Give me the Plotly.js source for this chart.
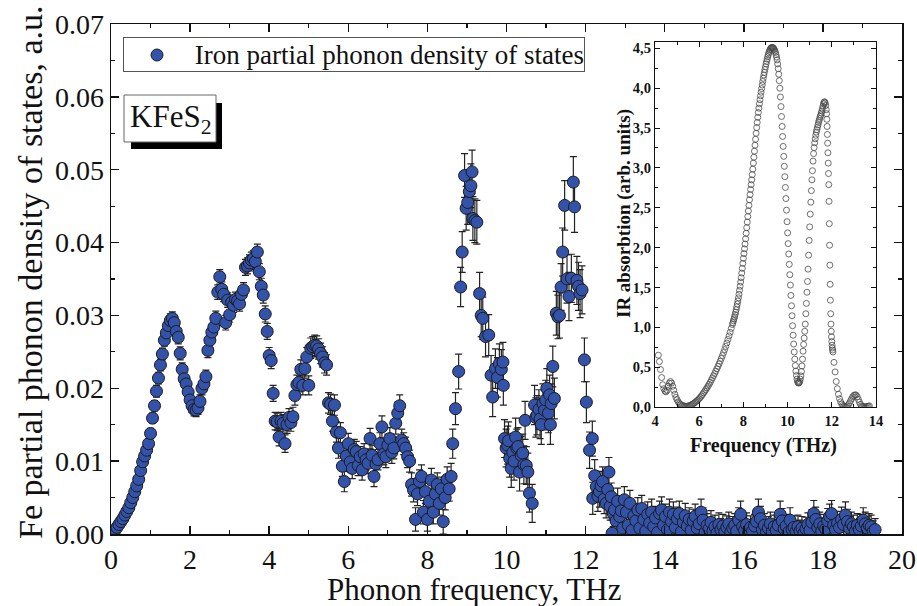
<!DOCTYPE html>
<html>
<head>
<meta charset="utf-8">
<script src="https://cdn.plot.ly/plotly-3.0.1.min.js"></script>
<style>
  html, body { margin: 0; padding: 0; background: #fff; }
  #chart { width: 917px; height: 606px; }
</style>
</head>
<body>
<div id="chart"></div>
<script>
// Fe partial phonon density of states of KFeS2 (frequency in THz, DOS in a.u., error bars)
const phononFreq = [
  0.05,0.10,0.15,0.20,0.25,0.30,0.35,0.40,0.45,0.50,
  0.55,0.60,0.65,0.70,0.75,0.80,0.85,0.90,0.95,1.00,
  1.05,1.10,1.15,1.20,1.25,1.30,1.35,1.40,1.45,1.50,
  1.55,1.60,1.65,1.70,1.75,1.80,1.85,1.90,1.95,2.00,
  2.05,2.10,2.15,2.20,2.25,2.30,2.35,2.40,2.45,2.50,
  2.55,2.60,2.65,2.70,2.75,2.80,2.85,2.90,2.95,3.00,
  3.05,3.10,3.15,3.20,3.25,3.30,3.35,3.40,3.45,3.50,
  3.55,3.60,3.65,3.70,3.75,3.80,3.85,3.90,3.95,4.00,
  4.05,4.10,4.15,4.20,4.25,4.30,4.35,4.40,4.45,4.50,
  4.55,4.60,4.65,4.70,4.75,4.80,4.85,4.90,4.95,5.00,
  5.05,5.10,5.15,5.20,5.25,5.30,5.35,5.40,5.45,5.50,
  5.55,5.60,5.65,5.70,5.75,5.80,5.85,5.90,5.95,6.00,
  6.05,6.10,6.15,6.20,6.25,6.30,6.35,6.40,6.45,6.50,
  6.55,6.60,6.65,6.70,6.75,6.80,6.85,6.90,6.95,7.00,
  7.05,7.10,7.15,7.20,7.25,7.30,7.35,7.40,7.45,7.50,
  7.55,7.60,7.65,7.70,7.75,7.80,7.85,7.90,7.95,8.00,
  8.05,8.10,8.15,8.20,8.25,8.30,8.35,8.40,8.45,8.50,
  8.55,8.60,8.64,8.71,8.79,8.84,8.88,8.94,8.98,9.02,
  9.06,9.10,9.13,9.15,9.20,9.25,9.32,9.36,9.40,9.47,
  9.55,9.61,9.65,9.72,9.77,9.82,9.87,9.91,9.92,9.95,
  9.99,10.03,10.05,10.08,10.12,10.16,10.19,10.23,10.26,10.29,
  10.33,10.37,10.41,10.44,10.47,10.50,10.54,10.58,10.65,10.71,
  10.74,10.77,10.82,10.85,10.88,10.92,10.96,10.99,11.02,11.06,
  11.09,11.11,11.13,11.17,11.21,11.26,11.30,11.34,11.38,11.42,
  11.47,11.53,11.58,11.64,11.69,11.72,11.78,11.82,11.86,11.91,
  11.97,12.02,12.10,12.17,12.18,12.23,12.27,12.31,12.35,12.39,
  12.43,12.47,12.52,12.56,12.59,12.62,12.65,12.67,12.70,12.73,
  12.77,12.81,12.86,12.90,12.94,12.98,
  13.03,13.08,13.12,13.17,13.22,13.27,13.32,13.37,13.42,13.47,
  13.52,13.57,13.62,13.67,13.72,13.77,13.82,13.87,13.92,13.97,
  14.02,14.07,14.12,14.17,14.22,14.27,14.32,14.37,14.42,14.47,
  14.52,14.57,14.62,14.67,14.72,14.77,14.82,14.87,14.92,14.97,
  15.02,15.07,15.12,15.17,15.22,15.27,15.32,15.37,15.42,15.47,
  15.52,15.57,15.62,15.67,15.72,15.77,15.82,15.87,15.92,15.97,
  16.02,16.07,16.12,16.17,16.22,16.27,16.32,16.37,16.42,16.47,
  16.52,16.57,16.62,16.67,16.72,16.77,16.82,16.87,16.92,16.97,
  17.02,17.07,17.12,17.17,17.22,17.27,17.32,17.37,17.42,17.47,
  17.52,17.57,17.62,17.67,17.72,17.77,17.82,17.87,17.92,17.97,
  18.02,18.07,18.12,18.17,18.22,18.27,18.32,18.37,18.42,18.47,
  18.52,18.57,18.62,18.67,18.72,18.77,18.82,18.87,18.92,18.97,
  19.02,19.07,19.12,19.17,19.22,19.27,19.32
];
const phononDos = [
  0.0002,0.0005,0.0009,0.0013,0.0017,0.0021,0.0026,0.0031,0.0036,0.0043,
  0.0050,0.0058,0.0066,0.0075,0.0087,0.0099,0.0107,0.0115,0.0124,0.0138,
  0.0159,0.0176,0.0196,0.0214,0.0232,0.0247,0.0266,0.0276,0.0286,0.0293,
  0.0296,0.0290,0.0278,0.0270,0.0248,0.0226,0.0213,0.0206,0.0195,0.0184,
  0.0176,0.0171,0.0170,0.0173,0.0182,0.0200,0.0206,0.0216,0.0252,0.0266,
  0.0277,0.0284,0.0296,0.0332,0.0353,0.0336,0.0329,0.0290,0.0321,0.0301,
  0.0318,0.0314,0.0322,0.0320,0.0316,0.0329,0.0335,0.0366,0.0368,0.0372,
  0.0376,0.0378,0.0374,0.0387,0.0360,0.0340,0.0328,0.0302,0.0278,0.0245,
  0.0238,0.0193,0.0155,0.0154,0.0133,0.0155,0.0152,0.0124,0.0150,0.0160,
  0.0153,0.0161,0.0190,0.0205,0.0208,0.0226,0.0204,0.0227,0.0243,0.0204,
  0.0255,0.0257,0.0259,0.0258,0.0254,0.0248,0.0243,0.0235,0.0232,0.0180,
  0.0178,0.0155,0.0177,0.0140,0.0118,0.0139,0.0093,0.0072,0.0107,0.0124,
  0.0099,0.0090,0.0116,0.0113,0.0094,0.0106,0.0088,0.0110,0.0102,0.0097,
  0.0131,0.0108,0.0079,0.0096,0.0102,0.0124,0.0147,0.0110,0.0106,0.0122,
  0.0131,0.0112,0.0118,0.0152,0.0166,0.0176,0.0129,0.0124,0.0118,0.0106,
  0.0100,0.0068,0.0060,0.0020,0.0055,0.0072,0.0079,0.0030,0.0058,0.0020,
  0.0045,0.0074,0.0030,0.0055,0.0068,0.0042,0.0062,0.0017,0.0050,0.0075,
  0.0062,0.0079,0.0124,0.0172,0.0223,0.0339,0.0387,0.0492,0.0447,0.0455,
  0.0470,0.0478,0.0497,0.0433,0.0430,0.0428,0.0330,0.0300,0.0296,0.0271,
  0.0273,0.0218,0.0188,0.0227,0.0215,0.0234,0.0226,0.0236,0.0204,0.0131,
  0.0118,0.0122,0.0128,0.0104,0.0090,0.0112,0.0100,0.0133,0.0118,0.0120,
  0.0085,0.0108,0.0111,0.0095,0.0156,0.0094,0.0085,0.0056,0.0042,0.0177,
  0.0160,0.0163,0.0171,0.0158,0.0150,0.0179,0.0170,0.0184,0.0200,0.0166,
  0.0191,0.0150,0.0179,0.0230,0.0186,0.0303,0.0298,0.0300,0.0339,0.0387,
  0.0451,0.0350,0.0326,0.0351,0.0483,0.0449,0.0348,0.0340,0.0330,0.0335,
  0.0239,0.0181,0.0115,0.0131,0.0049,0.0080,0.0065,0.0052,0.0058,0.0066,
  0.0072,0.0048,0.0042,0.0061,0.0085,0.0038,0.0051,0.0001,0.0028,0.0033,
  0.0018,0.0045,0.0024,0.0032,0.0008,0.0047,
  0.0030,0.0012,0.0042,0.0005,0.0025,0.0018,0.0033,0.0008,0.0035,0.0020,
  0.0004,0.0027,0.0015,0.0030,0.0010,0.0022,0.0002,0.0028,0.0033,0.0012,
  0.0024,0.0006,0.0030,0.0017,0.0027,0.0009,0.0021,0.0028,0.0003,0.0016,
  0.0025,0.0011,0.0020,0.0005,0.0018,0.0024,0.0008,0.0014,0.0030,0.0019,
  0.0002,0.0012,0.0007,0.0016,0.0004,0.0010,0.0001,0.0013,0.0006,0.0011,
  0.0003,0.0009,0.0014,0.0002,0.0008,0.0012,0.0004,0.0019,0.0027,0.0010,
  0.0005,0.0013,0.0002,0.0009,0.0004,0.0011,0.0017,0.0030,0.0021,0.0006,
  0.0012,0.0002,0.0008,0.0014,0.0003,0.0010,0.0005,0.0012,0.0027,0.0018,
  0.0007,0.0011,0.0002,0.0019,0.0006,0.0009,0.0003,0.0010,0.0004,0.0008,
  0.0001,0.0007,0.0013,0.0005,0.0016,0.0028,0.0020,0.0009,0.0014,0.0004,
  0.0011,0.0007,0.0018,0.0024,0.0028,0.0012,0.0006,0.0015,0.0009,0.0020,
  0.0013,0.0026,0.0017,0.0008,0.0014,0.0010,0.0004,0.0012,0.0006,0.0011,
  0.0019,0.0014,0.0008,0.0012,0.0010,0.0003,0.0006
];
const phononErr = [
  0.0003,0.0003,0.0003,0.0004,0.0004,0.0004,0.0004,0.0005,0.0005,0.0005,
  0.0005,0.0005,0.0006,0.0006,0.0006,0.0006,0.0006,0.0007,0.0007,0.0007,
  0.0007,0.0007,0.0008,0.0008,0.0008,0.0008,0.0008,0.0009,0.0009,0.0009,
  0.0009,0.0009,0.0009,0.0009,0.0009,0.0009,0.0009,0.0009,0.0009,0.0009,
  0.0009,0.0009,0.0009,0.0009,0.0009,0.0009,0.0009,0.0009,0.0010,0.0010,
  0.0010,0.0010,0.0010,0.0010,0.0010,0.0010,0.0010,0.0010,0.0010,0.0010,
  0.0010,0.0010,0.0010,0.0010,0.0010,0.0010,0.0010,0.0011,0.0011,0.0011,
  0.0011,0.0011,0.0011,0.0011,0.0011,0.0011,0.0011,0.0011,0.0011,0.0011,
  0.0011,0.0011,0.0012,0.0012,0.0012,0.0012,0.0012,0.0012,0.0012,0.0012,
  0.0012,0.0013,0.0013,0.0013,0.0013,0.0013,0.0013,0.0013,0.0013,0.0013,
  0.0014,0.0014,0.0014,0.0014,0.0014,0.0014,0.0014,0.0014,0.0014,0.0014,
  0.0014,0.0014,0.0014,0.0014,0.0014,0.0014,0.0014,0.0014,0.0014,0.0014,
  0.0014,0.0014,0.0014,0.0014,0.0014,0.0014,0.0014,0.0014,0.0014,0.0014,
  0.0014,0.0014,0.0014,0.0014,0.0014,0.0015,0.0015,0.0015,0.0015,0.0015,
  0.0015,0.0015,0.0015,0.0015,0.0015,0.0015,0.0015,0.0015,0.0015,0.0015,
  0.0015,0.0016,0.0016,0.0016,0.0016,0.0016,0.0016,0.0016,0.0016,0.0016,
  0.0016,0.0016,0.0016,0.0016,0.0016,0.0016,0.0016,0.0017,0.0017,0.0017,
  0.0017,0.0018,0.0020,0.0022,0.0024,0.0027,0.0028,0.0030,0.0030,0.0030,
  0.0030,0.0030,0.0030,0.0030,0.0030,0.0030,0.0029,0.0029,0.0029,0.0028,
  0.0028,0.0027,0.0027,0.0027,0.0027,0.0027,0.0027,0.0027,0.0027,0.0026,
  0.0026,0.0026,0.0026,0.0026,0.0026,0.0026,0.0026,0.0026,0.0026,0.0026,
  0.0026,0.0026,0.0026,0.0026,0.0026,0.0026,0.0026,0.0026,0.0026,0.0027,
  0.0027,0.0027,0.0027,0.0027,0.0027,0.0027,0.0027,0.0027,0.0027,0.0027,
  0.0027,0.0027,0.0027,0.0028,0.0028,0.0030,0.0030,0.0031,0.0032,0.0033,
  0.0034,0.0033,0.0033,0.0033,0.0035,0.0035,0.0033,0.0033,0.0033,0.0033,
  0.0030,0.0028,0.0025,0.0024,0.0022,0.0022,0.0021,0.0021,0.0021,0.0020,
  0.0020,0.0020,0.0020,0.0020,0.0020,0.0019,0.0019,0.0018,0.0018,0.0018,
  0.0018,0.0018,0.0018,0.0018,0.0018,0.0018,
  0.0017,0.0016,0.0018,0.0015,0.0017,0.0016,0.0017,0.0015,0.0018,0.0016,
  0.0015,0.0017,0.0016,0.0018,0.0015,0.0016,0.0015,0.0017,0.0018,0.0016,
  0.0017,0.0015,0.0018,0.0016,0.0017,0.0015,0.0016,0.0017,0.0015,0.0016,
  0.0017,0.0015,0.0016,0.0015,0.0016,0.0017,0.0015,0.0016,0.0018,0.0017,
  0.0015,0.0016,0.0015,0.0016,0.0015,0.0016,0.0015,0.0016,0.0015,0.0016,
  0.0015,0.0016,0.0016,0.0015,0.0016,0.0016,0.0015,0.0017,0.0018,0.0016,
  0.0015,0.0016,0.0015,0.0016,0.0015,0.0016,0.0017,0.0018,0.0017,0.0015,
  0.0016,0.0015,0.0016,0.0016,0.0015,0.0016,0.0015,0.0016,0.0018,0.0017,
  0.0015,0.0016,0.0015,0.0017,0.0015,0.0016,0.0015,0.0016,0.0015,0.0016,
  0.0015,0.0016,0.0016,0.0015,0.0017,0.0018,0.0017,0.0016,0.0016,0.0015,
  0.0016,0.0015,0.0017,0.0017,0.0018,0.0016,0.0015,0.0016,0.0016,0.0017,
  0.0016,0.0018,0.0017,0.0016,0.0016,0.0016,0.0015,0.0016,0.0015,0.0016,
  0.0017,0.0016,0.0016,0.0016,0.0016,0.0015,0.0015
];

// IR absorption spectrum (inset): frequency in THz, absorption in arb. units
const irFreq = [
  4.15,4.20,4.25,4.30,4.35,4.40,4.45,4.50,4.55,4.60,
  4.65,4.70,4.75,4.80,4.85,4.90,4.95,5.00,5.05,5.10,
  5.15,5.20,5.25,5.30,5.35,5.40,5.45,5.50,5.55,5.60,
  5.65,5.70,5.75,5.80,5.85,5.90,5.95,6.00,6.05,6.10,
  6.15,6.20,6.25,6.30,6.35,6.40,6.45,6.50,6.55,6.60,
  6.65,6.70,6.75,6.80,6.85,6.90,6.95,7.00,7.05,7.10,
  7.15,7.20,7.25,7.30,7.35,7.40,7.45,
  7.500,7.525,7.550,7.575,7.600,7.625,7.650,7.675,7.700,7.725,
  7.750,7.775,7.800,7.825,7.850,7.875,7.900,7.925,7.950,7.975,
  8.000,8.025,8.050,8.075,8.100,8.125,8.150,8.175,8.200,8.225,
  8.250,8.275,8.300,8.325,8.350,8.375,8.400,8.425,8.450,8.475,
  8.500,8.525,8.550,8.575,8.600,8.625,8.650,8.675,8.700,8.725,
  8.750,8.775,8.800,8.825,8.850,8.875,8.900,8.925,8.950,8.975,
  9.000,9.025,9.050,9.075,9.100,9.125,9.150,9.175,9.200,9.225,
  9.250,9.275,9.300,9.325,9.350,9.375,9.400,9.425,9.450,9.475,
  9.500,9.525,9.550,9.575,9.600,9.625,9.650,9.675,9.700,9.725,
  9.750,9.775,9.800,9.825,9.850,9.875,9.900,9.925,9.950,9.975,
  10.000,10.025,10.050,10.075,10.100,10.125,10.150,10.175,10.200,10.225,
  10.250,10.275,10.300,10.325,10.350,10.375,10.400,10.425,10.450,10.475,
  10.500,10.525,10.550,10.575,10.600,10.625,10.650,10.675,10.700,10.725,
  10.750,10.775,10.800,10.825,10.850,10.875,10.900,10.925,10.950,10.975,
  11.000,11.025,11.050,11.075,11.100,11.125,11.150,11.175,11.200,11.225,
  11.250,11.275,11.300,11.325,11.350,11.375,11.400,11.425,11.450,11.475,
  11.500,11.525,11.550,11.575,11.600,11.625,11.650,11.675,11.700,11.725,
  11.7500,11.7625,11.7750,11.7875,11.8000,11.8125,11.8250,11.8375,
  11.8500,11.8625,11.8750,11.8875,11.9000,11.9125,11.9250,11.9375,
  11.9500,11.9625,11.9750,11.9875,12.0000,12.0125,12.0250,12.0375,
  12.05,12.10,12.15,12.20,12.25,12.30,12.35,12.40,12.45,12.50,
  12.55,12.60,12.65,12.70,12.75,12.80,12.85,12.90,12.95,13.00,
  13.05,13.10,13.15,13.20,13.25,13.30,13.35,13.40,13.45,13.50,
  13.55,13.60,13.65,13.70
];
const irAbs = [
  0.650,0.570,0.470,0.370,0.280,0.230,0.200,0.190,0.210,0.260,
  0.300,0.320,0.300,0.260,0.210,0.160,0.120,0.090,0.065,0.045,
  0.033,0.024,0.017,0.012,0.010,0.009,0.010,0.012,0.016,0.021,
  0.028,0.036,0.045,0.055,0.066,0.078,0.090,0.104,0.120,0.138,
  0.157,0.177,0.197,0.218,0.240,0.262,0.285,0.310,0.338,0.366,
  0.393,0.420,0.450,0.480,0.510,0.542,0.575,0.610,0.645,0.682,
  0.720,0.760,0.803,0.847,0.892,0.938,0.986,
  1.035,1.058,1.082,1.107,1.133,1.160,1.190,1.222,1.256,1.292,
  1.330,1.370,1.415,1.465,1.515,1.568,1.622,1.680,1.740,1.802,
  1.865,1.925,1.985,2.045,2.110,2.180,2.250,2.320,2.390,2.460,
  2.530,2.600,2.665,2.730,2.790,2.850,2.915,2.985,3.060,3.135,
  3.210,3.285,3.360,3.435,3.505,3.570,3.635,3.695,3.750,3.805,
  3.855,3.905,3.950,3.995,4.040,4.085,4.125,4.165,4.200,4.235,
  4.270,4.305,4.335,4.365,4.395,4.420,4.445,4.465,4.482,4.495,
  4.505,4.510,4.512,4.510,4.505,4.497,4.485,4.468,4.448,4.422,
  4.392,4.355,4.305,4.245,4.175,4.095,4.000,3.890,3.770,3.645,
  3.520,3.395,3.270,3.145,3.020,2.890,2.755,2.615,2.470,2.325,
  2.185,2.050,1.920,1.790,1.660,1.530,1.400,1.270,1.145,1.020,
  0.900,0.790,0.690,0.600,0.520,0.450,0.395,0.350,0.320,0.305,
  0.300,0.305,0.320,0.350,0.390,0.445,0.515,0.600,0.700,0.785,
  0.865,0.950,1.040,1.170,1.300,1.440,1.575,1.730,1.905,2.090,
  2.260,2.420,2.570,2.715,2.850,2.965,3.085,3.180,3.255,3.315,
  3.365,3.410,3.450,3.480,3.510,3.540,3.570,3.595,3.620,3.645,
  3.665,3.690,3.715,3.745,3.775,3.805,3.825,3.830,3.815,3.785,
  3.730,3.680,3.610,3.520,3.420,3.310,3.190,3.060,
  2.930,2.790,2.580,2.300,2.030,1.780,1.540,1.340,
  1.170,1.040,0.950,0.880,0.820,0.775,0.740,0.715,
  0.690,0.560,0.440,0.320,0.230,0.160,0.105,0.065,0.038,0.020,
  0.008,0.002,0.002,0.012,0.030,0.052,0.078,0.105,0.128,0.145,
  0.153,0.150,0.128,0.095,0.060,0.032,0.015,0.006,0.002,0.001,
  0.002,0.006,0.010,0.014
];

// Inset y-axis ticks use a decimal comma
const irTickVals = [0, 0.5, 1, 1.5, 2, 2.5, 3, 3.5, 4, 4.5];
const irTickText = ['0,0', '0,5', '1,0', '1,5', '2,0', '2,5', '3,0', '3,5', '4,0', '4,5'];

const seriesName = 'Iron partial phonon density of states';
const dosColor = '#3353aa';

const serif = "'Liberation Serif', 'Times New Roman', serif";
const ink = '#111111';

// plot-area geometry helpers (pixel -> paper fraction)
const M = { l: 111, r: 15, t: 24, b: 72 };
const W = 917, H = 606;
const PW = W - M.l - M.r, PH = H - M.t - M.b;
const px = x => (x - M.l) / PW;
const py = y => (H - M.b - y) / PH;

const traces = [
  {
    type: 'scatter',
    mode: 'markers',
    x: phononFreq,
    y: phononDos,
    name: seriesName,
    marker: { size: 12, color: dosColor, line: { color: '#1c1c1c', width: 1 } },
    error_y: { type: 'data', array: phononErr, visible: true, color: '#222', thickness: 1.2, width: 3.5 },
    xaxis: 'x', yaxis: 'y'
  },
  {
    type: 'scatter',
    mode: 'markers',
    x: irFreq,
    y: irAbs,
    marker: { symbol: 'circle-open', size: 6, color: '#4a4a4a', line: { width: 0.8 } },
    xaxis: 'x2', yaxis: 'y2'
  }
];

const mainAxis = {
  showline: true, linecolor: ink, linewidth: 1.5, mirror: 'allticks',
  ticks: 'inside', ticklen: 8, tickwidth: 1.5, tickcolor: ink,
  showgrid: false, zeroline: false,
  tickfont: { family: serif, size: 28, color: ink }
};

const insetAxis = {
  showline: true, linecolor: ink, linewidth: 1.2, mirror: 'allticks',
  ticks: 'inside', ticklen: 5, tickwidth: 1, tickcolor: ink,
  showgrid: false, zeroline: false,
  tickfont: { family: serif, size: 14.5, color: ink, weight: 'bold' }
};

const layout = {
  width: W, height: H,
  margin: M,
  paper_bgcolor: '#ffffff',
  plot_bgcolor: '#ffffff',
  showlegend: false,
  xaxis: Object.assign({}, mainAxis, {
    range: [0, 20], dtick: 2, tick0: 0, ticklabelstandoff: 0,
    minor: { dtick: 1, ticks: 'inside', ticklen: 4, tickwidth: 1.2, tickcolor: ink, showgrid: false }
  }),
  yaxis: Object.assign({}, mainAxis, {
    range: [0, 0.07], dtick: 0.01, tick0: 0, tickformat: '.2f',
    minor: { dtick: 0.005, ticks: 'inside', ticklen: 4, tickwidth: 1.2, tickcolor: ink, showgrid: false }
  }),
  xaxis2: Object.assign({}, insetAxis, {
    domain: [px(655), px(876)], anchor: 'y2',
    range: [4, 14], dtick: 2, tick0: 4,
    minor: { dtick: 1, ticks: 'inside', ticklen: 3, tickcolor: ink, showgrid: false }
  }),
  yaxis2: Object.assign({}, insetAxis, {
    domain: [py(407), py(42)], anchor: 'x2',
    range: [0, 4.58],
    tickmode: 'array', tickvals: irTickVals, ticktext: irTickText,
    minor: { dtick: 0.25, ticks: 'inside', ticklen: 3, tickcolor: ink, showgrid: false }
  }),
  shapes: [
    // legend key symbol
    { type: 'circle', xref: 'paper', yref: 'paper', layer: 'above',
      x0: px(151), x1: px(163), y0: py(61), y1: py(49),
      fillcolor: dosColor, line: { color: '#1c1c1c', width: 1 } },
    // drop shadow and frame of the compound label
    { type: 'rect', xref: 'paper', yref: 'paper', layer: 'above',
      x0: px(131), x1: px(222), y0: py(149), y1: py(103),
      fillcolor: '#000', line: { width: 0 } },
    { type: 'rect', xref: 'paper', yref: 'paper', layer: 'above',
      x0: px(124), x1: px(216), y0: py(142), y1: py(95),
      fillcolor: '#fff', line: { color: '#666', width: 1 } }
  ],
  annotations: [
    // legend box
    { text: seriesName, xref: 'paper', yref: 'paper',
      x: px(123), y: py(37), xanchor: 'left', yanchor: 'top', showarrow: false,
      width: 460, height: 33, align: 'right', valign: 'middle', borderpad: 0,
      bordercolor: '#555', borderwidth: 1,
      font: { family: serif, size: 27, color: ink } },
    { text: 'KFeS<sub>2</sub>', xref: 'paper', yref: 'paper',
      x: px(170), y: py(119), xanchor: 'center', yanchor: 'middle', showarrow: false,
      font: { family: serif, size: 31, color: ink } },
    { text: 'Phonon frequency, THz', xref: 'paper', yref: 'paper',
      x: px(474), y: py(589), xanchor: 'center', yanchor: 'middle', showarrow: false,
      font: { family: serif, size: 31, color: ink } },
    { text: 'Fe partial phonon density of states, a.u.', xref: 'paper', yref: 'paper',
      x: px(30), y: py(272), xanchor: 'center', yanchor: 'middle', showarrow: false, textangle: -90,
      font: { family: serif, size: 34, color: ink } },
    { text: 'Frequency (THz)', xref: 'paper', yref: 'paper',
      x: px(763), y: py(445), xanchor: 'center', yanchor: 'middle', showarrow: false,
      font: { family: serif, size: 20, color: ink, weight: 'bold' } },
    { text: 'IR absorbtion (arb. units)', xref: 'paper', yref: 'paper',
      x: px(624), y: py(214), xanchor: 'center', yanchor: 'middle', showarrow: false, textangle: -90,
      font: { family: serif, size: 19, color: ink, weight: 'bold' } }
  ]
};

Plotly.newPlot('chart', traces, layout, { staticPlot: true, displayModeBar: false });
</script>
</body>
</html>
